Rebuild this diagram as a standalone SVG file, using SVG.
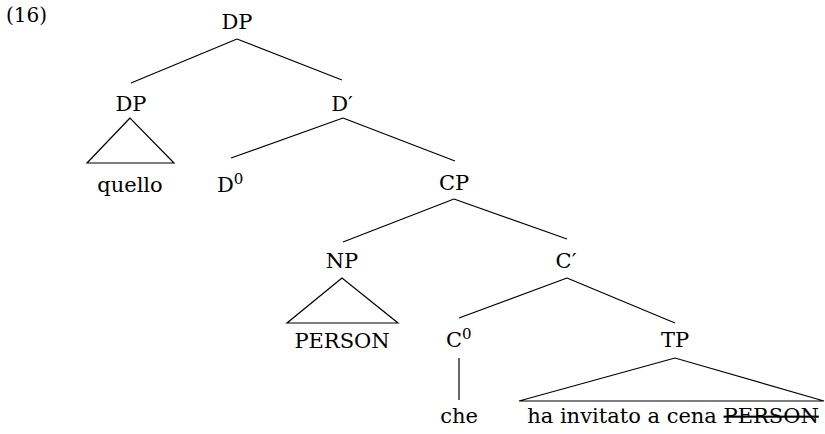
<svg xmlns="http://www.w3.org/2000/svg" width="825" height="434" viewBox="0 0 825 434">
  <style>
    text { font-family: "DejaVu Serif", "Liberation Serif", serif; font-size: 21px; fill: #000; text-anchor: middle; }
    .num { text-anchor: start; font-size: 20px; }
    .lead { text-anchor: start; }
    .sup { font-size: 15px; }
    .edge { stroke: #000; stroke-width: 1.2; fill: none; }
    .strike { text-decoration: line-through; }
  </style>
  <rect width="825" height="434" fill="#fff"/>
  <text class="num" x="6" y="22">(16)</text>

  <g id="connectors">
    <line class="edge" x1="237" y1="39" x2="131" y2="83"/>
    <line class="edge" x1="237" y1="39" x2="342" y2="80"/>
    <polygon class="edge" points="130,118 87,163 174,163"/>
    <line class="edge" x1="343" y1="118" x2="231" y2="158"/>
    <line class="edge" x1="343" y1="118" x2="455" y2="161"/>
    <line class="edge" x1="454" y1="199" x2="343" y2="242"/>
    <line class="edge" x1="454" y1="199" x2="567" y2="239"/>
    <polygon class="edge" points="342,278 287,323 398,323"/>
    <line class="edge" x1="567" y1="278" x2="459" y2="318"/>
    <line class="edge" x1="567" y1="278" x2="675" y2="323"/>
    <line class="edge" x1="459" y1="358" x2="459" y2="400"/>
    <polygon class="edge" points="675,358 519,401 824,401"/>
  </g>

  <g id="dp-root"><text x="237" y="29">DP</text></g>
  <g id="dp-spec"><text x="131" y="111">DP</text></g>
  <g id="quello"><text x="130" y="192">quello</text></g>
  <g id="d-bar"><text x="342" y="111">D′</text></g>
  <g id="d-head"><text class="lead" x="217" y="192">D<tspan class="sup" dy="-8">0</tspan></text></g>
  <g id="cp"><text x="454" y="190">CP</text></g>
  <g id="np"><text x="342" y="268">NP</text></g>
  <g id="person"><text x="342" y="348">PERSON</text></g>
  <g id="c-bar"><text x="566" y="268">C′</text></g>
  <g id="c-head"><text class="lead" x="446" y="347">C<tspan class="sup" dy="-8">0</tspan></text></g>
  <g id="tp"><text x="675" y="347">TP</text></g>
  <g id="che"><text x="459" y="423">che</text></g>
  <g id="tp-yield"><text x="673" y="423">ha invitato a cena <tspan class="strike">PERSON</tspan></text></g>
</svg>
